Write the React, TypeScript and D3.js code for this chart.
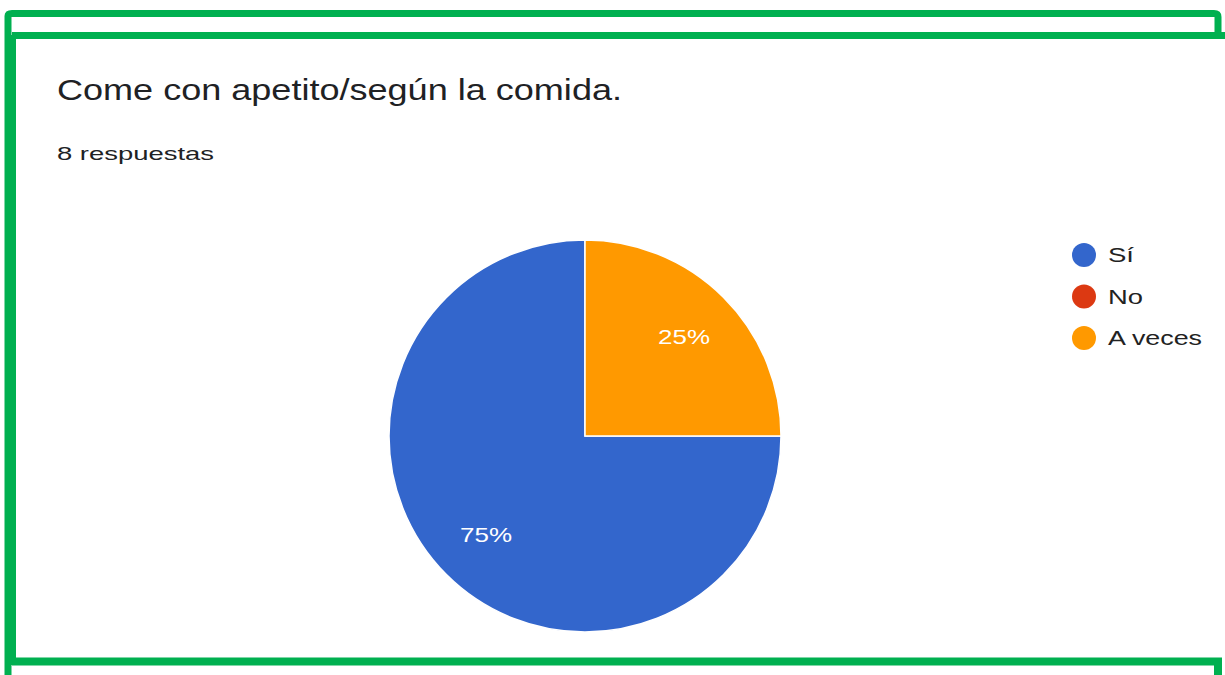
import React from "react";
import * as d3 from "d3";

const categories = ["Sí", "No", "A veces"];
const values = [6, 0, 2];
const colors = ["#3366cc", "#dc3912", "#ff9900"];
const legendWidths = [26, 35, 94];
const title = "Come con apetito/según la comida.";
const subtitle = "8 respuestas";

export default function App() {
  const W = 1225, H = 675;
  const cx = 585, cy = 436, r = 196;
  const data = categories.map((c, i) => ({ c, v: values[i], color: colors[i] }));
  const pie = d3.pie<any>().value((d) => d.v).sort(null).startAngle(Math.PI / 2).endAngle(Math.PI / 2 + 2 * Math.PI);
  const arcs = pie(data);
  const arc = d3.arc<any>().innerRadius(0).outerRadius(r);
  const labelArc = d3.arc<any>().innerRadius(140).outerRadius(140);
  const total = d3.sum(values);
  const green = "#00b050";
  const font = "'Liberation Sans', Arial, sans-serif";
  return (
    <svg width={W} height={H} style={{ position: "absolute", left: 0, top: 0, background: "#fff" }}>
      <rect x={0} y={0} width={W} height={H} fill="#fff" />
      <path d={`M8,675 L8,16 Q8,13.5 12,13.5 L1214,13.5 Q1218,13.5 1218,17 L1218,35.5`} fill="none" stroke={green} strokeWidth={7} />
      <line x1={12} y1={35.5} x2={1225} y2={35.5} stroke={green} strokeWidth={7} />
      <line x1={12} y1={661.5} x2={1222} y2={661.5} stroke={green} strokeWidth={8} />
      <line x1={1218} y1={661} x2={1218} y2={675} stroke={green} strokeWidth={8} />
      <line x1={12} y1={35} x2={12} y2={665} stroke={green} strokeWidth={8} />
      <text x={57} y={100} fontFamily={font} fontSize={29} fill="#202124" textLength={565} lengthAdjust="spacingAndGlyphs">{title}</text>
      <text x={57} y={160} fontFamily={font} fontSize={19} fill="#202124" textLength={157} lengthAdjust="spacingAndGlyphs">{subtitle}</text>
      <g transform={`translate(${cx},${cy})`}>
        {arcs.map((a, i) => (
          a.data.v > 0 ? <path key={i} d={arc(a) as string} fill={a.data.color} stroke="#fff" strokeWidth={1.5} /> : null
        ))}
        {arcs.map((a, i) => {
          if (a.data.v <= 0) return null;
          const [x, y] = labelArc.centroid(a);
          return (
            <text key={"l" + i} x={x - 26} y={y} dy="0.35em" fontFamily={font} fontSize={21} fill="#fff" textLength={52} lengthAdjust="spacingAndGlyphs">
              {`${Math.round((a.data.v / total) * 100)}%`}
            </text>
          );
        })}
      </g>
      <g>
        {data.map((d, i) => (
          <g key={i} transform={`translate(1084,${255 + i * 41.5})`}>
            <circle r={12} fill={d.color} />
            <text x={24} dy="0.35em" fontFamily={font} fontSize={21} fill="#222" textLength={legendWidths[i]} lengthAdjust="spacingAndGlyphs">{d.c}</text>
          </g>
        ))}
      </g>
    </svg>
  );
}
